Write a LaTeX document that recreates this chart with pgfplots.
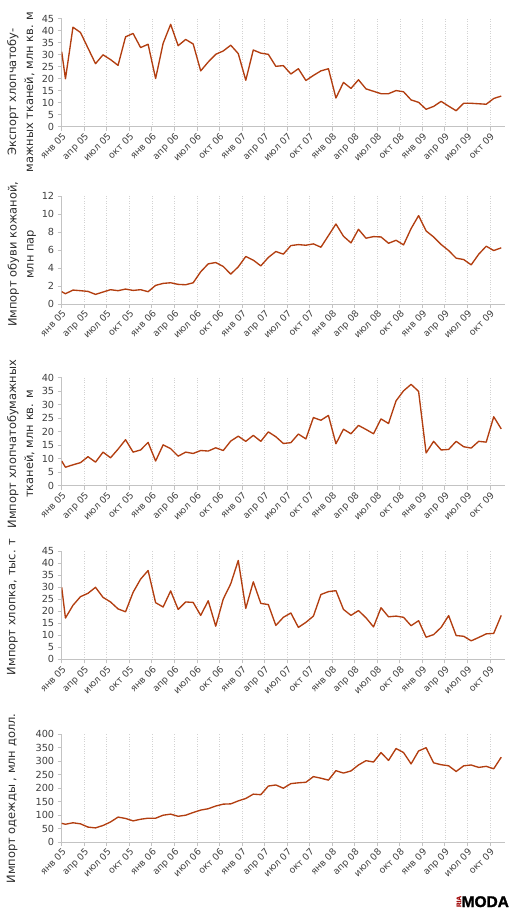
\documentclass[border=0pt]{standalone}
\usepackage{pgfplots}
\usepackage{pgfplotstable}
\pgfplotsset{compat=1.18}
\usepackage{fontspec}
\setmainfont{DejaVu Sans}
\newfontfamily\logofont[FakeBold=1.6]{Liberation Sans}

\definecolor{seriesline}{RGB}{178,62,16}
\definecolor{axisgray}{RGB}{195,195,195}
\definecolor{gridgray}{RGB}{210,210,210}
\definecolor{ticktext}{RGB}{64,64,64}
\definecolor{labeltext}{RGB}{45,45,45}
\definecolor{logored}{RGB}{165,20,20}

% Monthly series, Jan 2005 -- Dec 2009 (points sit mid-month on the axis)
\pgfplotstableread{
x     exp    shoes  fabric cotton clothes
0     31.3   1.37   9.1    30.0   70
0.5   20.0   1.14   6.8    17.2   66.5
1.5   41.5   1.55   7.7    22.5   72
2.5   39.3   1.48   8.5    26.1   68
3.5   32.8   1.40   10.7   27.5   56
4.5   26.3   1.07   8.7    30.0   53
5.5   30.0   1.33   12.4   25.8   62
6.5   28.0   1.59   10.3   23.9   75
7.5   25.6   1.48   13.5   21.0   93
8.5   37.5   1.66   17.0   19.8   88
9.5   38.9   1.51   12.4   27.9   79
10.5  33.0   1.59   13.2   33.4   85
11.5  34.4   1.37   16.0   37.0   89
12.5  20.1   2.07   9.1    23.6   89
13.5  34.8   2.29   15.1   21.8   100
14.5  42.7   2.36   13.7   28.5   104
15.5  33.8   2.18   10.9   20.8   96
16.5  36.4   2.14   12.4   23.9   100
17.5  34.5   2.36   11.9   23.7   110
18.5  23.3   3.58   13.0   18.3   119
19.5  27.0   4.46   12.8   24.4   124
20.5  30.2   4.61   14.0   13.8   134
21.5  31.6   4.17   13.0   25.1   141
22.5  34.0   3.32   16.5   31.5   142
23.5  30.5   4.13   18.3   41.2   153
24.5  19.4   5.28   16.4   21.2   162
25.5  32.0   4.87   18.6   32.3   178
26.5  30.7   4.24   16.4   23.3   176
27.5  30.2   5.17   19.9   22.8   208
28.5  25.2   5.83   18.1   14.1   212
29.5  25.5   5.54   15.6   17.5   200
30.5  22.0   6.49   15.9   19.3   217
31.5  24.2   6.60   19.1   13.3   220
32.5  19.3   6.53   17.3   15.4   222
33.5  21.4   6.68   25.2   18.0   243
34.5  23.3   6.31   24.2   27.0   237
35.5  24.2   7.60   26.0   28.2   230
36.5  12.0   8.89   15.5   28.6   265
37.5  18.5   7.53   20.9   20.8   256
38.5  16.0   6.79   19.2   18.3   264
39.5  19.6   8.30   22.3   20.3   286
40.5  15.8   7.31   20.8   17.3   302
41.5  14.8   7.49   19.2   13.5   297
42.5  13.8   7.45   24.7   21.5   332
43.5  13.8   6.75   23.0   17.7   303
44.5  15.1   7.08   31.4   18.0   347
45.5  14.6   6.57   35.1   17.5   332
46.5  11.2   8.38   37.5   14.0   290
47.5  10.2   9.82   34.9   16.1   338
48.5  7.3    8.12   12.1   9.2    350
49.5  8.5    7.45   16.4   10.3   294
50.5  10.6   6.61   13.2   13.3   287
51.5  8.6    5.94   13.4   18.2   283
52.5  6.7    5.09   16.4   9.9    262
53.5  9.8    4.94   14.4   9.6    283
54.5  9.8    4.35   13.9   7.7    286
55.5  9.6    5.53   16.4   9.1    277
56.5  9.4    6.42   16.1   10.6   281
57.5  11.8   5.94   25.5   10.8   272
58.5  12.8   6.24   21.0   18.3   315
}\monthly

\pgfplotsset{
  monthpanel/.style={
    scale only axis,
    width=443.3bp, height=108bp,
    anchor=south west,
    xmin=0, xmax=59, ymin=0,
    axis x line*=bottom, axis y line*=left,
    axis line style={-, axisgray, line width=0.9bp},
    tick style={axisgray, line width=0.8bp},
    tick align=outside,
    major tick length=4bp,
    xtick={0,3,...,57},
    xticklabels={янв 05, апр 05, июл 05, окт 05, янв 06, апр 06, июл 06, окт 06,
                 янв 07, апр 07, июл 07, окт 07, янв 08, апр 08, июл 08, окт 08,
                 янв 09, апр 09, июл 09, окт 09},
    xticklabel style={rotate=45, anchor=north east, inner sep=1bp,
                      font=\fontsize{9.3}{10}\selectfont, text=ticktext},
    yticklabel style={font=\fontsize{9.8}{10}\selectfont, text=ticktext},
    /pgf/number format/assume math mode=true,
    xmajorgrids,
    grid style={gridgray, dotted, line width=0.6bp},
    ylabel style={align=center, anchor=center,
                  font=\fontsize{11.5}{17}\selectfont, text=labeltext},
  },
  seriesstyle/.style={seriesline, line width=1.35bp, no markers, line join=round},
}

\begin{document}
\begin{tikzpicture}
\path[use as bounding box] (0,0) rectangle (520bp,-924bp);

\begin{axis}[monthpanel, at={(61.7bp,-126.8bp)},
  ymax=45, ytick={0,5,...,45},
  ylabel={Экспорт хлопчатобу-\\мажных тканей, млн кв. м},
  ylabel style={at={(axis description cs:-0.092,0.322)}}]
\addplot[seriesstyle] table[x=x, y=exp] {\monthly};
\end{axis}

\begin{axis}[monthpanel, at={(61.7bp,-304bp)},
  ymax=12, ytick={0,2,...,12},
  ylabel={Импорт обуви кожаной,\\млн пар},
  ylabel style={at={(axis description cs:-0.09,0.46)}}]
\addplot[seriesstyle] table[x=x, y=shoes] {\monthly};
\end{axis}

\begin{axis}[monthpanel, at={(61.7bp,-485.6bp)},
  ymax=40, ytick={0,5,...,40},
  ylabel={Импорт хлопчатобумажных\\тканей, млн кв. м},
  ylabel style={at={(axis description cs:-0.092,0.385)}}]
\addplot[seriesstyle] table[x=x, y=fabric] {\monthly};
\end{axis}

\begin{axis}[monthpanel, at={(61.7bp,-659.3bp)},
  ymax=45, ytick={0,5,...,45},
  ylabel={Импорт хлопка, тыс. т},
  ylabel style={at={(axis description cs:-0.111,0.485)}}]
\addplot[seriesstyle] table[x=x, y=cotton] {\monthly};
\end{axis}

\begin{axis}[monthpanel, at={(61.7bp,-842.2bp)},
  ymax=400, ytick={0,50,...,400},
  ylabel={Импорт одежды , млн долл.},
  ylabel style={at={(axis description cs:-0.112,0.404)}}]
\addplot[seriesstyle] table[x=x, y=clothes] {\monthly};
\end{axis}

% logo
\node[anchor=base west, inner sep=0, font=\logofont\bfseries\fontsize{15.5}{16}\selectfont]
  at (461.5bp,-907bp) {MODA};
\node[rotate=90, inner sep=0, text=logored, font=\logofont\bfseries\fontsize{6.5}{7}\selectfont]
  at (458.8bp,-901.5bp) {RIA};
\end{tikzpicture}
\end{document}
